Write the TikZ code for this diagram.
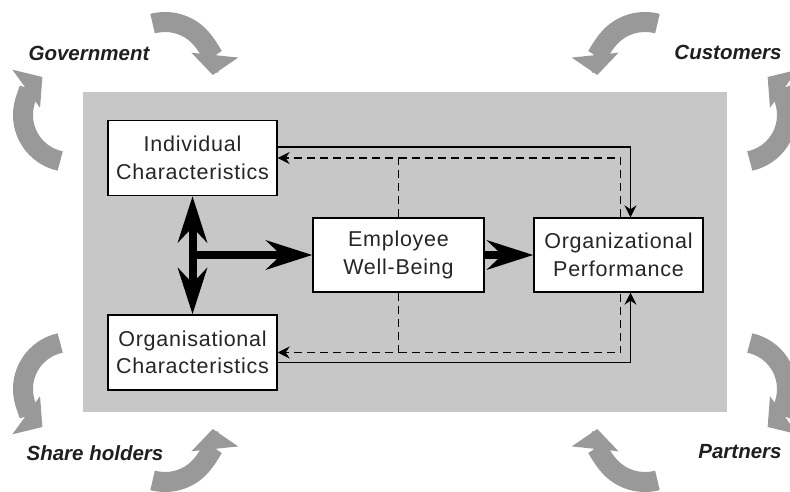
\documentclass[tikz,border=0pt]{standalone}
\usepackage{fontspec}
\setmainfont{Liberation Sans}
\newfontfamily\boxfont[LetterSpace=3.5]{Liberation Sans}
\usetikzlibrary{arrows.meta}

\begin{document}
\begin{tikzpicture}[x=1pt, y=-1pt,
  box/.style={draw, line width=1.4pt, fill=white, align=center, inner sep=0pt,
    minimum width=169pt, minimum height=75pt, text=black!85,
    font=\boxfont\fontsize{21.5}{27.5}\selectfont},
  party/.style={text=black!88, font=\fontsize{20.5}{24}\selectfont\bfseries\itshape},
  swirl/.style={line width=20pt, draw=black!40, -{Triangle[width=46pt, length=20pt]}},
  fat/.style={line width=8pt},
  big/.tip={Stealth[length=46pt, width=29pt, inset=15pt]},
  small/.tip={Stealth[length=12pt, width=12pt, inset=4pt]},
  link/.style={line width=1.3pt},
  feedback/.style={line width=1.2pt, dash pattern=on 8pt off 5pt}]
\useasboundingbox (0,0) rectangle (790,492);
\fill[black!22] (83,92) rectangle (727,412);

\draw[swirl] (165,70) ++(-105:48) arc[start angle=-105, end angle=6, radius=48];
\draw[swirl] (70,115) ++(102:47) arc[start angle=102, end angle=234, radius=47];
\draw[swirl] (645,70) ++(285:48) arc[start angle=285, end angle=174, radius=48];
\draw[swirl] (740,115) ++(78:47) arc[start angle=78, end angle=-54, radius=47];
\draw[swirl] (70,389) ++(-102:47) arc[start angle=-102, end angle=-234, radius=47];
\draw[swirl] (165,434) ++(105:48) arc[start angle=105, end angle=-6, radius=48];
\draw[swirl] (740,389) ++(-78:47) arc[start angle=-78, end angle=54, radius=47];
\draw[swirl] (645,434) ++(75:48) arc[start angle=75, end angle=186, radius=48];

\node[party] (gov) at (89,53) {Government};
\node[party] (cust) at (728,52) {Customers};
\node[party] (share) at (95,453) {Share holders};
\node[party] (part) at (740,452) {Partners};

\node[box] (ind) at (192.5,158) {Individual\\Characteristics};
\node[box] (org) at (192.5,352.5) {Organisational\\Characteristics};
\node[box, minimum width=171pt, minimum height=74pt] (emp) at (398.5,255) {Employee\\Well-Being};
\node[box, minimum height=74pt] (perf) at (618.5,255) {Organizational\\Performance};
\coordinate (hub) at (ind.south |- emp.west);

\draw[link, -small] ([yshift=11pt]ind.east) -| ([xshift=12pt]perf.north);
\draw[link, -small] ([yshift=-10pt]org.east) -| ([xshift=12pt]perf.south);
\draw[feedback, -small] (emp.north) |- (ind.east);
\draw[feedback] (emp.north |- ind.east) -| ([xshift=2pt]perf.north);
\draw[feedback, -small] (emp.south) |- (org.east);
\draw[feedback] (emp.south |- org.east) -| ([xshift=2pt]perf.south);

\draw[fat, big-big] (ind.south) -- (org.north);
\draw[fat, -big] ([xshift=-4pt]hub) -- (emp.west);
\draw[fat, -big] (emp.east) -- (perf.west);
\end{tikzpicture}
\end{document}
